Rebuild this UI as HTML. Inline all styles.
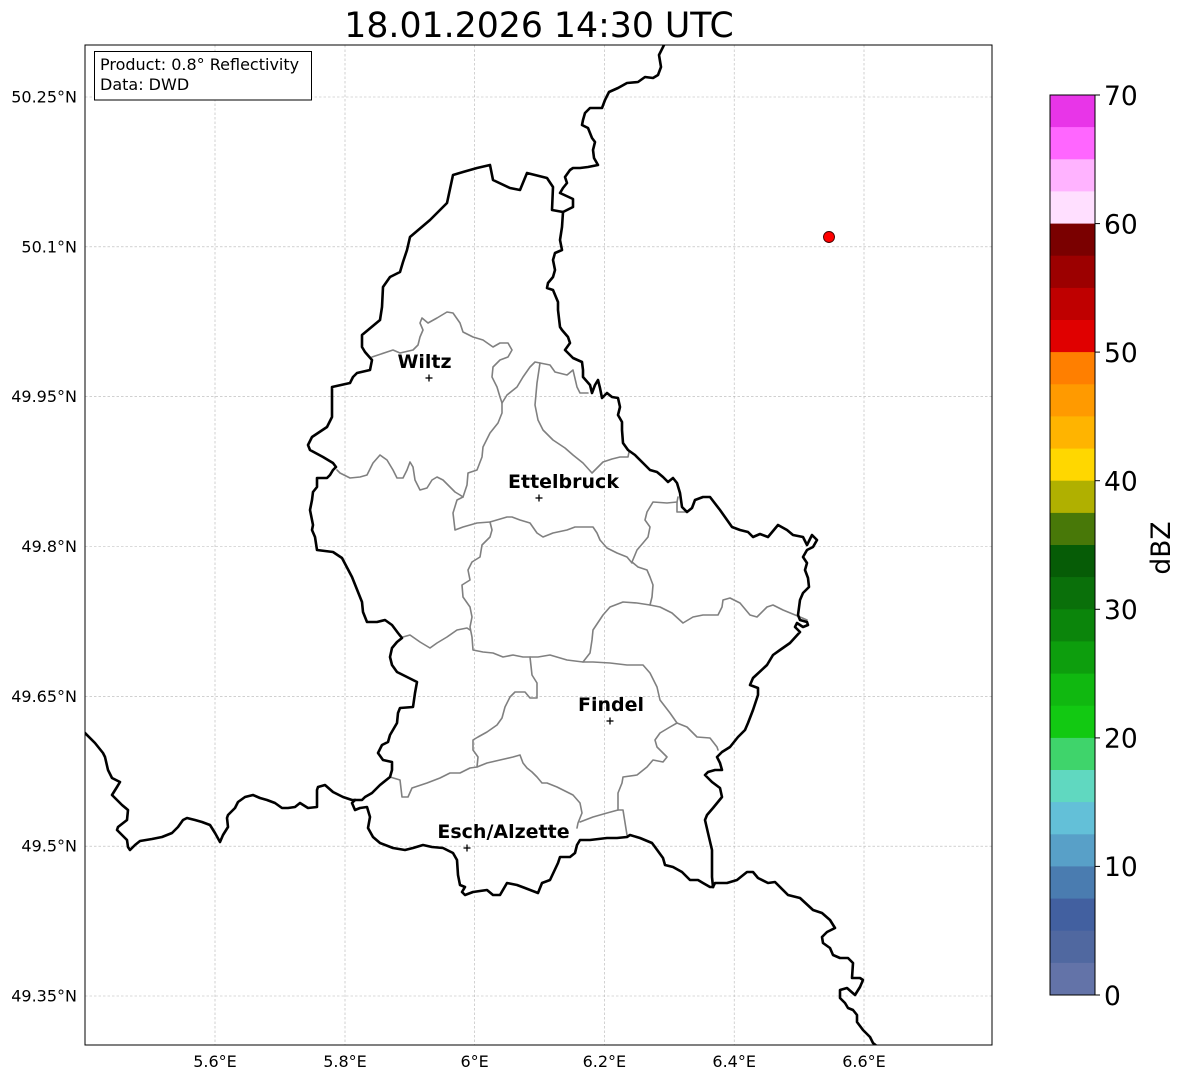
<!DOCTYPE html>
<html><head><meta charset="utf-8"><style>
html,body{margin:0;padding:0;background:#fff;}
svg{display:block;font-family:"DejaVu Sans","Liberation Sans",sans-serif;}
</style></head><body>
<svg width="1184" height="1081" viewBox="0 0 1184 1081" xmlns="http://www.w3.org/2000/svg">
<rect width="1184" height="1081" fill="#fff"/>
<text x="539" y="37" font-size="34.7" text-anchor="middle" fill="#000">18.01.2026 14:30 UTC</text>
<clipPath id="ax"><rect x="85" y="45" width="907" height="1000"/></clipPath>
<g stroke="#b5b5b5" stroke-width="0.6" stroke-dasharray="2.5,2" fill="none">
<line x1="215" y1="45" x2="215" y2="1045"/><line x1="345" y1="45" x2="345" y2="1045"/><line x1="474.6" y1="45" x2="474.6" y2="1045"/><line x1="604.4" y1="45" x2="604.4" y2="1045"/><line x1="734.2" y1="45" x2="734.2" y2="1045"/><line x1="864" y1="45" x2="864" y2="1045"/>
<line x1="85" y1="97" x2="992" y2="97"/><line x1="85" y1="246.8" x2="992" y2="246.8"/><line x1="85" y1="396.7" x2="992" y2="396.7"/><line x1="85" y1="546.5" x2="992" y2="546.5"/><line x1="85" y1="696.3" x2="992" y2="696.3"/><line x1="85" y1="846.2" x2="992" y2="846.2"/><line x1="85" y1="996" x2="992" y2="996"/>
</g>
<g clip-path="url(#ax)" fill="none" stroke-linejoin="round" stroke-linecap="round">
<g stroke="#808080" stroke-width="1.6">
<polyline points="372,357 387,352 393,350 400,353 413,350 418,345 420,337 423,330 420,323 422,318 428,323 437,318 447,312 453,313 460,323 463,332 473,337 483,340 493,347 500,343 508,343 512,350 508,357 500,360 493,367 492,377 497,387 500,397 502,403 502,413 498,423 490,433 483,447 482,457 477,470 468,473 467,485 463,497 457,500 453,513 455,530 463,527 477,523 490,522 507,517 512,517 520,520 530,523 537,533 543,537 553,533 567,530 575,527 587,527 593,527 597,533 600,540 607,548 617,553 627,557 632,563"/>
<polyline points="502,403 507,395 517,387 523,377 530,367 535,362 540,363 550,365 555,372 567,375 573,370 577,387 580,393 588,393"/>
<polyline points="540,363 537,383 535,405 538,420 543,430 553,440 565,448 573,455 583,463 592,473 597,468 603,462 612,459 620,457 628,457 629,452"/>
<polyline points="337,470 340,473 350,478 360,477 367,475 373,463 380,455 387,460 393,470 397,478 403,478 407,470 410,462 413,467 415,480 420,490 427,488 432,480 437,477 443,480 450,487 455,492 460,495 463,497"/>
<polyline points="490,522 492,530 490,537 482,545 480,557 472,562 468,570 470,580 462,585 463,597 470,607 472,617 470,627 472,637 473,650 483,652 493,653 503,657 513,655 523,657 530,657 538,657 550,655 567,660 583,662 590,653 592,640 593,630 603,615 610,607 623,602 637,603 650,605 660,607 672,613 683,623 693,617 703,615 718,615 722,607 723,600 730,598 740,603 750,615 757,617 767,607 773,605 783,610 800,617 807,620"/>
<polyline points="403,637 410,635 420,642 430,648 437,643 447,637 457,630 467,628 470,630"/>
<polyline points="632,562 637,550 643,543 648,537 650,527 645,520 647,512 653,502 667,503 677,502 678,497"/>
<polyline points="677,502 677,512 687,512"/>
<polyline points="632,562 638,567 647,570 650,577 653,585 652,597 650,605"/>
<polyline points="530,657 532,675 537,683 537,698 530,698 525,692 515,692 510,697 505,707 502,718 497,725 487,732 478,737 473,740 473,750 478,757 477,767"/>
<polyline points="390,777 400,780 402,797 408,797 412,788 427,783 440,778 450,773 460,773 470,768 477,767 487,763 500,760 513,757 520,755 523,763 527,768 532,772 537,777 542,783 547,783 557,787 567,792 573,795 580,803 582,813 578,823 577,828"/>
<polyline points="580,822 593,817 607,813 618,810 623,810 627,835"/>
<polyline points="618,810 618,793 622,783 623,777 637,775 647,767 653,760 663,762 667,757 662,752 657,747 655,740 660,733 670,727 677,723 687,727 697,737 710,738 717,747 718,750"/>
<polyline points="677,723 670,713 660,700 657,687 650,673 643,665 627,665 610,663 593,662 583,662"/>
</g>
<g stroke="#000" stroke-width="2.6">
<polyline points="664,45 659,55 661,67 658,75 653,78 645,77 638,82 627,83 618,88 609,92 605,100 602,108 590,108 585,113 583,120 582,125 588,128 592,138 595,142 593,150 594,158 598,165 588,167 580,168 573,168 570,170 565,177 567,183 563,188 560,193 573,199 573,207 563,212"/>
<polyline points="563,212 562,227 560,240 562,250 555,253 553,260 555,270 553,277 548,283 547,288 553,290 558,302 558,310 560,327 562,330 568,337 570,343 565,350 573,358 582,362 583,370 583,377 590,385 592,393 595,385 598,380 600,388 602,398 607,393 612,397 618,398 620,407 618,415 622,422 622,430 623,443 628,450 635,455 643,463 650,470 657,472 663,477 668,482 673,478 677,483 680,493 682,507 687,512 692,508 695,500 703,497 710,497 720,510 732,527 740,530 748,532 753,537 760,534 768,537 778,525 787,530 793,535 803,537 807,545 812,535 817,540 813,547 807,550 803,557 807,563 805,570 808,578 809,587 803,593 800,600 798,615 800,620 807,622 808,625 803,627 797,623 795,627 800,632 790,643 780,650 773,655 767,665 753,678 750,685 758,688 758,695 753,710 748,723 745,730 738,737 730,747 722,752 717,757 720,763 722,770 715,770 708,772 705,775 712,782 720,788 722,797 713,808 707,815 705,820 708,833 712,850 712,877 713,887"/>
<polyline points="713,887 715,883 727,883 737,880 747,872 753,872 758,878 768,883 775,882 788,895 800,898 813,910 822,913 830,920 835,928 827,932 822,937 823,943 830,948 833,955 840,958 848,958 853,963 852,978 860,978 863,980 860,987 855,995 847,988 840,990 840,998 845,1003 848,1008 853,1010 857,1015 857,1022 863,1030 870,1037 873,1043 878,1047"/>
<polyline points="713,887 710,887 703,883 698,880 690,880 682,872 673,867 665,865 663,858 655,847 652,843 640,838 630,835 627,837 617,838 607,838 590,840 580,840 577,845 575,853 570,857 560,857 558,863 550,880 542,883 538,893 525,888 517,885 507,883 500,895 493,895 487,890 473,892 465,895 462,892 465,887 460,885 458,875 457,860 453,853 443,848 432,847 423,845 413,848 405,850 393,848 380,843 373,837 368,828 370,817 367,807 360,808 355,810 352,803 355,800"/>
<polyline points="355,800 352,800 343,797 333,792 325,785 318,787 317,790 317,807 308,808 300,803 295,807 288,808 282,808 275,803 267,800 260,798 253,795 245,797 238,802 235,808 228,815 227,818 228,827 223,835 220,842 215,833 210,825 202,822 195,820 187,818 183,820 178,827 172,833 162,837 152,839 140,841 135,845 130,850 128,847 127,840 125,838 117,830 118,827 127,820 128,810 122,805 112,795 117,787 120,782 112,778 108,770 105,757 103,753 95,743 83,731"/>
<polyline points="355,800 362,800 365,797 372,793 380,785 390,777 392,770 392,762 383,760 378,753 382,745 388,742 390,735 397,723 398,713 400,708 413,707 415,693 417,682 407,677 397,672 392,665 390,657 392,648 397,642 402,638 398,633 392,625 385,620 377,622 367,622 363,612 362,602 352,577 342,558 333,552 317,550 315,537 312,530 313,525 310,510 312,500 313,492 317,487 317,478 327,478 330,475 333,470 336,467 333,463 323,457 310,450 308,445 312,437 327,427 332,417 332,387 350,383 353,377 357,373 370,370 372,360 365,352 362,347 362,335 368,330 380,320 382,307 383,287 390,277 400,272 403,262 407,250 410,237 430,220 447,203 453,175 463,172 477,168 490,165 493,180 510,188 520,190 527,173 547,178 553,187 552,210 563,212"/>
</g>
</g>
<circle cx="829" cy="237" r="5.5" fill="#ff0000" stroke="#400000" stroke-width="0.9"/>
<g stroke="#000" stroke-width="1.3">
<line x1="425.5" y1="378" x2="432.5" y2="378"/><line x1="429" y1="374.5" x2="429" y2="381.5"/>
<line x1="535.5" y1="498" x2="542.5" y2="498"/><line x1="539" y1="494.5" x2="539" y2="501.5"/>
<line x1="606.5" y1="721" x2="613.5" y2="721"/><line x1="610" y1="717.5" x2="610" y2="724.5"/>
<line x1="463.5" y1="848" x2="470.5" y2="848"/><line x1="467" y1="844.5" x2="467" y2="851.5"/>
</g>
<g font-size="19" font-weight="bold" fill="#000" text-anchor="middle">
<text x="424.5" y="368">Wiltz</text>
<text x="563.5" y="488">Ettelbruck</text>
<text x="611" y="711">Findel</text>
<text x="503.5" y="838">Esch/Alzette</text>
</g>
<rect x="85" y="45" width="907" height="1000" fill="none" stroke="#000" stroke-width="1"/>
<rect x="94.5" y="51.5" width="217" height="48.5" fill="#fff" stroke="#000" stroke-width="1"/>
<text x="100" y="70" font-size="16" fill="#000">Product: 0.8° Reflectivity</text>
<text x="100" y="90" font-size="16" fill="#000">Data: DWD</text>
<g font-size="16" fill="#000" text-anchor="end">
<text x="77" y="102.5">50.25°N</text>
<text x="77" y="252.3">50.1°N</text>
<text x="77" y="402.2">49.95°N</text>
<text x="77" y="552">49.8°N</text>
<text x="77" y="701.8">49.65°N</text>
<text x="77" y="851.7">49.5°N</text>
<text x="77" y="1001.5">49.35°N</text>
</g>
<g font-size="16" fill="#000" text-anchor="middle">
<text x="215" y="1067">5.6°E</text>
<text x="345" y="1067">5.8°E</text>
<text x="474.6" y="1067">6°E</text>
<text x="604.4" y="1067">6.2°E</text>
<text x="734.2" y="1067">6.4°E</text>
<text x="864" y="1067">6.6°E</text>
</g>
<g stroke="none">
<rect x="1050" y="95.0" width="45" height="32.6" fill="#e835e8"/>
<rect x="1050" y="127.1" width="45" height="32.6" fill="#ff66ff"/>
<rect x="1050" y="159.3" width="45" height="32.6" fill="#ffb3ff"/>
<rect x="1050" y="191.4" width="45" height="32.6" fill="#ffdfff"/>
<rect x="1050" y="223.6" width="45" height="32.6" fill="#7a0000"/>
<rect x="1050" y="255.7" width="45" height="32.6" fill="#9c0000"/>
<rect x="1050" y="287.9" width="45" height="32.6" fill="#bf0000"/>
<rect x="1050" y="320.0" width="45" height="32.6" fill="#e00000"/>
<rect x="1050" y="352.1" width="45" height="32.6" fill="#ff7f00"/>
<rect x="1050" y="384.3" width="45" height="32.6" fill="#ff9a00"/>
<rect x="1050" y="416.4" width="45" height="32.6" fill="#ffb400"/>
<rect x="1050" y="448.6" width="45" height="32.6" fill="#ffd700"/>
<rect x="1050" y="480.7" width="45" height="32.6" fill="#b0b000"/>
<rect x="1050" y="512.9" width="45" height="32.6" fill="#487808"/>
<rect x="1050" y="545.0" width="45" height="32.6" fill="#065c06"/>
<rect x="1050" y="577.1" width="45" height="32.6" fill="#0a700a"/>
<rect x="1050" y="609.3" width="45" height="32.6" fill="#0b850b"/>
<rect x="1050" y="641.4" width="45" height="32.6" fill="#0d9e0d"/>
<rect x="1050" y="673.6" width="45" height="32.6" fill="#10b810"/>
<rect x="1050" y="705.7" width="45" height="32.6" fill="#12c912"/>
<rect x="1050" y="737.9" width="45" height="32.6" fill="#3fd46b"/>
<rect x="1050" y="770.0" width="45" height="32.6" fill="#60d8c0"/>
<rect x="1050" y="802.1" width="45" height="32.6" fill="#63c0d8"/>
<rect x="1050" y="834.3" width="45" height="32.6" fill="#58a0c8"/>
<rect x="1050" y="866.4" width="45" height="32.6" fill="#4a7cb0"/>
<rect x="1050" y="898.6" width="45" height="32.6" fill="#4260a0"/>
<rect x="1050" y="930.7" width="45" height="32.6" fill="#5068a0"/>
<rect x="1050" y="962.9" width="45" height="32.1" fill="#6373a8"/>
</g>
<rect x="1050" y="95" width="45" height="900" fill="none" stroke="#000" stroke-width="1"/>
<g stroke="#000" stroke-width="1">
<line x1="1095" y1="95" x2="1100" y2="95"/><line x1="1095" y1="223.6" x2="1100" y2="223.6"/><line x1="1095" y1="352.1" x2="1100" y2="352.1"/><line x1="1095" y1="480.7" x2="1100" y2="480.7"/><line x1="1095" y1="609.3" x2="1100" y2="609.3"/><line x1="1095" y1="737.9" x2="1100" y2="737.9"/><line x1="1095" y1="866.4" x2="1100" y2="866.4"/><line x1="1095" y1="995" x2="1100" y2="995"/>
</g>
<g font-size="26.5" fill="#000">
<text x="1104" y="105">70</text>
<text x="1104" y="233.5">60</text>
<text x="1104" y="362">50</text>
<text x="1104" y="490.5">40</text>
<text x="1104" y="619">30</text>
<text x="1104" y="747.5">20</text>
<text x="1104" y="876">10</text>
<text x="1104" y="1005">0</text>
</g>
<text transform="translate(1170,548) rotate(-90)" font-size="26.5" text-anchor="middle" fill="#000">dBZ</text>
</svg>
</body></html>
